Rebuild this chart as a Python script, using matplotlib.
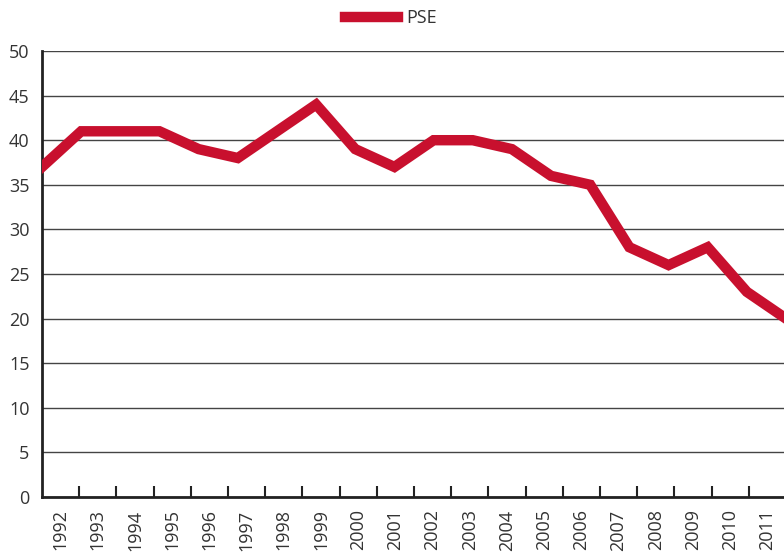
import matplotlib.pyplot as plt
import numpy as np

years = [str(y) for y in range(1992, 2012)]
pse = [37, 41, 41, 41, 39, 38, 41, 44, 39, 37, 40, 40, 39, 36, 35, 28, 26, 28, 23, 20]

plt.rcParams['font.family'] = ['Open Sans', 'DejaVu Sans']

fig = plt.figure(figsize=(7.84, 5.54), dpi=100)
ax = fig.add_axes([42 / 784, 1 - 497 / 554, 744 / 784, 446 / 554])

n = len(years)
ax.set_xlim(0, n)
ax.set_ylim(0, 50)
ax.set_yticks(np.arange(0, 51, 5))
ax.yaxis.grid(True, color='#444444', linewidth=1)
ax.set_axisbelow(True)
ax.tick_params(axis='y', length=0, pad=9, labelsize=13, labelcolor='#333333')

# category boundaries as ticks, labels in the middle
ax.set_xticks(np.arange(1, n))
ax.set_xticklabels([])
ax.set_xticks(np.arange(n) + 0.5, minor=True)
ax.set_xticklabels(years, minor=True, rotation=90)
ax.tick_params(axis='x', which='major', direction='in', length=8, width=1.5, color='#222222')
ax.tick_params(axis='x', which='minor', length=0, pad=9, labelsize=13, labelcolor='#333333')

for s in ['top', 'right']:
    ax.spines[s].set_visible(False)
for s in ['left', 'bottom']:
    ax.spines[s].set_linewidth(2)
    ax.spines[s].set_color('#222222')

# line drawn across the full width (point axis)
ax2 = ax.twiny()
ax2.set_xlim(0, n - 1)
ax2.set_ylim(0, 50)
ax2.axis('off')
line, = ax2.plot(np.arange(n), pse, color='#C8102E', linewidth=7.5, solid_joinstyle='miter', label='PSE')

fig.legend(handles=[line], loc='center', bbox_to_anchor=(0.499, 0.967), frameon=False,
           fontsize=13, handlelength=2.9, handletextpad=0.5, labelcolor='#333333')

fig.savefig('out.png', dpi=100)
